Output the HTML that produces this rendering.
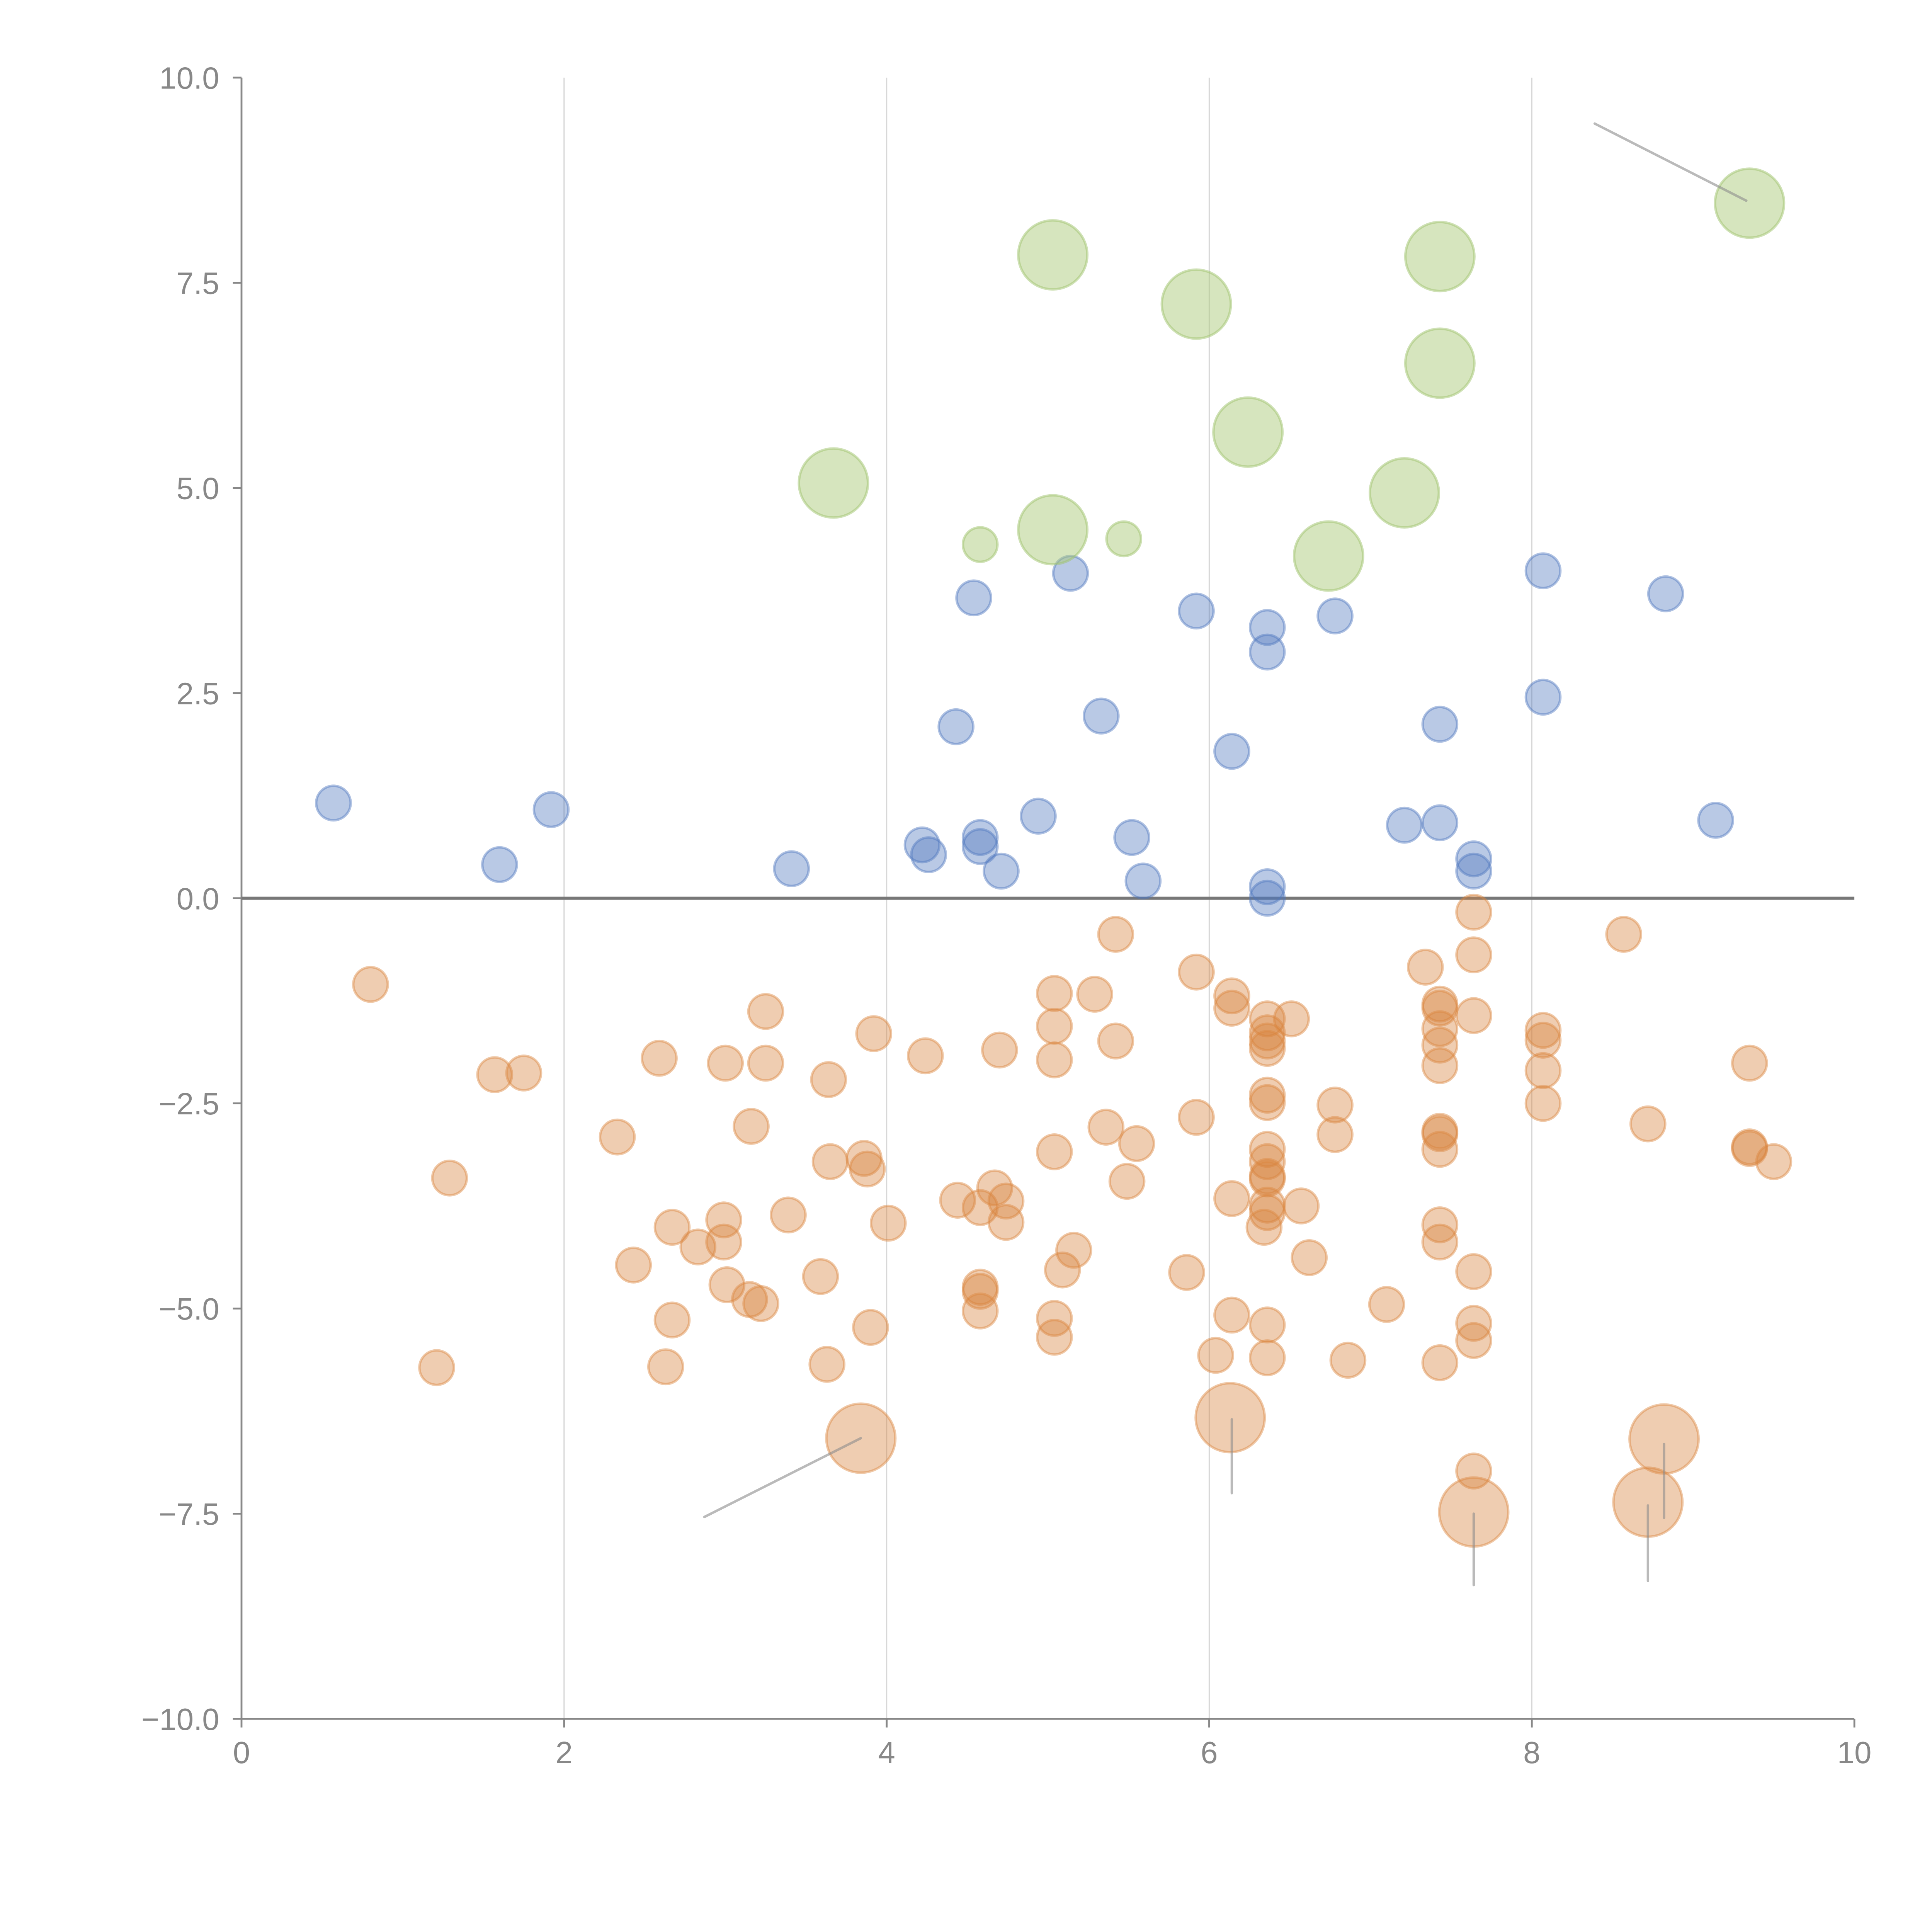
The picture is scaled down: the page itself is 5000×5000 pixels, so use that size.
<!DOCTYPE html>
<html><head><meta charset="utf-8"><style>
html,body{margin:0;padding:0;background:#fff;}
svg{display:block;}
text{font-family:"Liberation Sans",sans-serif;fill:#888;}
</style></head><body>
<svg id="chart" width="5000" height="5000" viewBox="0 0 1568 1568" xmlns="http://www.w3.org/2000/svg">
<g id="grid"></g>
<g id="axes"></g>
<g id="marks"></g>
<g id="ann"></g>
</svg>
<script>
const xTicks=[0,2,4,6,8,10];
const yTicks=[10,7.5,5,2.5,0,-2.5,-5,-7.5,-10];
const yTickLabels=["10.0","7.5","5.0","2.5","0.0","\u22122.5","\u22125.0","\u22127.5","\u221210.0"];
const blueX=[0.57,1.60,1.92,3.41,4.22,4.26,4.43,4.54,4.58,4.58,4.71,4.94,5.14,5.33,5.52,5.59,5.92,6.14,6.36,6.36,6.36,6.36,6.78,7.21,7.43,7.43,7.64,7.64,8.07,8.07,8.83,9.14];
const blueY=[1.16,0.41,1.08,0.36,0.65,0.53,2.09,3.66,0.74,0.63,0.33,1.00,3.96,2.22,0.74,0.21,3.50,1.79,3.30,3.00,0.14,0.0,3.44,0.89,2.12,0.92,0.48,0.33,3.99,2.45,3.71,0.95];
const greenX=[3.67,4.58,5.03,5.03,5.47,5.92,6.24,6.74,7.21,7.43,7.43,9.35];
const greenY=[5.06,4.31,7.84,4.49,4.38,7.24,5.68,4.17,4.94,7.82,6.52,8.47];
const greenSize=[4,1,4,4,1,4,4,4,4,4,4,4];
const orangeX=[0.80,1.21,1.29,1.57,1.75,2.33,2.43,2.59,2.63,2.67,2.67,2.83,2.99,2.99,3.00,3.01,3.15,3.16,3.22,3.25,3.25,3.39,3.59,3.63,3.64,3.65,3.86,3.88,3.90,3.92,4.01,4.24,4.44,4.58,4.58,4.58,4.58,4.67,4.70,4.74,4.74,5.04,5.04,5.04,5.04,5.04,5.04,5.09,5.16,5.29,5.36,5.42,5.42,5.49,5.55,5.86,5.92,5.92,6.04,6.14,6.14,6.14,6.14,6.36,6.36,6.36,6.36,6.36,6.36,6.36,6.36,6.36,6.36,6.36,6.36,6.34,6.36,6.36,6.51,6.57,6.62,6.78,6.78,6.86,7.10,7.34,7.43,7.43,7.43,7.43,7.43,7.43,7.43,7.43,7.43,7.43,7.43,7.64,7.64,7.64,7.64,7.64,7.64,7.64,8.07,8.07,8.07,8.07,8.57,8.72,9.35,9.35,9.35,9.50,3.84,6.13,7.64,8.72,8.82];
const orangeY=[-1.05,-5.72,-3.41,-2.15,-2.13,-2.91,-4.47,-1.95,-5.71,-5.14,-4.01,-4.25,-3.92,-4.19,-2.01,-4.71,-4.89,-2.78,-4.94,-1.38,-2.01,-3.86,-4.61,-5.68,-2.21,-3.21,-3.17,-3.30,-5.23,-1.65,-3.96,-1.92,-3.68,-3.77,-4.74,-4.79,-5.03,-3.53,-1.85,-3.69,-3.95,-1.16,-1.56,-1.97,-3.09,-5.12,-5.35,-4.53,-4.29,-1.17,-2.79,-1.74,-0.44,-3.45,-2.99,-4.56,-0.90,-2.67,-5.57,-1.19,-1.34,-3.66,-5.08,-1.47,-1.64,-1.74,-1.83,-2.40,-2.49,-3.06,-3.21,-3.39,-3.42,-3.74,-3.83,-4.01,-5.20,-5.60,-1.47,-3.75,-4.38,-2.52,-2.88,-5.63,-4.95,-0.84,-1.29,-1.34,-1.59,-1.79,-2.04,-2.84,-2.87,-3.06,-3.98,-4.19,-5.66,-0.17,-0.69,-1.43,-4.55,-5.18,-5.39,-6.98,-1.61,-1.73,-2.10,-2.50,-0.44,-2.75,-2.01,-3.03,-3.05,-3.21,-6.58,-6.33,-7.48,-7.36,-6.59];
const orangeSize=orangeX.map((_,i)=>i>=orangeX.length-5?4:1);
const annX1=[9.33,3.84,6.14,7.64,8.72,8.82];
const annY1=[8.5,-6.58,-6.35,-7.5,-7.4,-6.65];
const annX2=[8.39,2.87,6.14,7.64,8.72,8.82];
const annY2=[9.44,-7.54,-7.25,-8.37,-8.32,-7.55];

const X0=196,X1=1505,YT=63,YB=1395;
const sx=v=>X0+(v-0)/(10-0)*(X1-X0);
const sy=v=>YB-(v+10)/20*(YB-YT);
const NS="http://www.w3.org/2000/svg";
function mk(parent,tag,attrs){const e=document.createElementNS(NS,tag);for(const k in attrs)e.setAttribute(k,attrs[k]);parent.appendChild(e);return e;}
const grid=document.getElementById('grid'),axes=document.getElementById('axes'),marks=document.getElementById('marks'),ann=document.getElementById('ann');
[2,4,6,8].forEach(v=>{const l=mk(grid,'line',{x1:sx(v),x2:sx(v),y1:YT,y2:YB,stroke:'#d8d8d8','stroke-width':1});

});
let a=mk(axes,'line',{x1:X0,x2:X0,y1:YT,y2:YB,stroke:'#888','stroke-width':1.5});


a=mk(axes,'line',{x1:X0,x2:X1,y1:YB,y2:YB,stroke:'#888','stroke-width':1.5});


yTicks.forEach((v,i)=>{const t=mk(axes,'line',{x1:X0-7,x2:X0,y1:sy(v),y2:sy(v),stroke:'#888','stroke-width':1.5});


const tx=mk(axes,'text',{x:X0-18,y:sy(v)+9,'text-anchor':'end','font-size':25});tx.textContent=yTickLabels[i];

});
xTicks.forEach(v=>{const t=mk(axes,'line',{x1:sx(v),x2:sx(v),y1:YB,y2:YB+7,stroke:'#888','stroke-width':1.5});


const tx=mk(axes,'text',{x:sx(v),y:YB+36,'text-anchor':'middle','font-size':25});tx.textContent=String(v);

});
function series(xs,ys,sz,fill,stroke,name){xs.forEach((x,i)=>{const r=14*Math.sqrt(sz?sz[i]:1);
const c=mk(marks,'circle',{cx:sx(x),cy:sy(ys[i]),r:r,fill:fill,stroke:stroke,'stroke-width':2});

});}
series(orangeX,orangeY,orangeSize,'rgba(215,130,60,0.4)','rgba(220,135,65,0.45)','bubble-orange');
series(blueX,blueY,null,'rgba(80,120,190,0.4)','rgba(80,120,190,0.45)','bubble-blue');
series(greenX,greenY,greenSize,'rgba(169,201,120,0.48)','rgba(160,195,110,0.5)','bubble-green');
const z=mk(axes,'line',{x1:X0,x2:X1,y1:sy(0),y2:sy(0),stroke:'#777','stroke-width':2.5});


annX1.forEach((x,i)=>{const l=mk(ann,'line',{x1:sx(x),y1:sy(annY1[i]),x2:sx(annX2[i]),y2:sy(annY2[i]),stroke:'rgba(140,140,140,0.6)','stroke-width':2,'stroke-linecap':'round'});

});
</script>
</body></html>
